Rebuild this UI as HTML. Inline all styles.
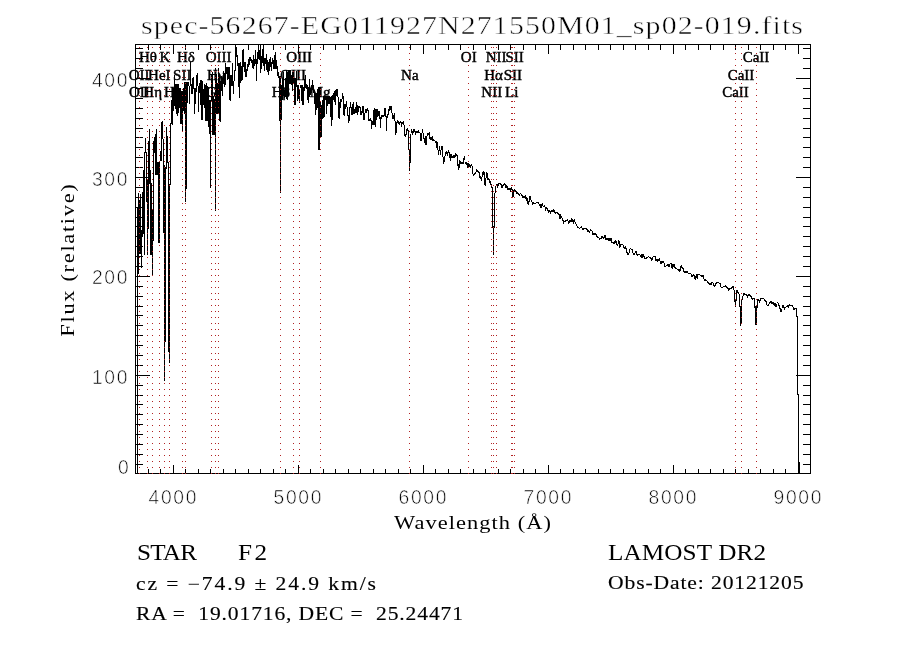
<!DOCTYPE html><html><head><meta charset="utf-8"><title>spec-56267-EG011927N271550M01_sp02-019.fits</title><style>html,body{margin:0;padding:0;background:#fff;}svg{display:block;}.serif{font-family:"Liberation Serif","DejaVu Serif",serif;}.mono{font-family:"Liberation Mono","DejaVu Sans Mono",monospace;}.sans{font-family:"Liberation Sans","DejaVu Sans",sans-serif;}</style></head><body>
<svg width="900" height="650" viewBox="0 0 900 650">
<rect width="900" height="650" fill="#fff"/>
<text class="serif" transform="translate(141 33.7) scale(1.15 1)" font-size="26" textLength="575.65" lengthAdjust="spacing" stroke="#fff" stroke-width="0.5">spec-56267-EG011927N271550M01_sp02-019.fits</text>
<path shape-rendering="crispEdges" fill="none" stroke="#000" stroke-width="1" d="M135.5 44.5H810.5V473.5H135.5ZM148.5 474V469M148.5 44V50M160.5 474V469M160.5 44V50M173.5 474V465M173.5 44V54M185.5 474V469M185.5 44V50M198.5 474V469M198.5 44V50M210.5 474V469M210.5 44V50M223.5 474V469M223.5 44V50M235.5 474V469M235.5 44V50M248.5 474V469M248.5 44V50M260.5 474V469M260.5 44V50M273.5 474V469M273.5 44V50M285.5 474V469M285.5 44V50M298.5 474V465M298.5 44V54M310.5 474V469M310.5 44V50M323.5 474V469M323.5 44V50M335.5 474V469M335.5 44V50M348.5 474V469M348.5 44V50M360.5 474V469M360.5 44V50M373.5 474V469M373.5 44V50M385.5 474V469M385.5 44V50M398.5 474V469M398.5 44V50M410.5 474V469M410.5 44V50M423.5 474V465M423.5 44V54M435.5 474V469M435.5 44V50M448.5 474V469M448.5 44V50M460.5 474V469M460.5 44V50M473.5 474V469M473.5 44V50M485.5 474V469M485.5 44V50M498.5 474V469M498.5 44V50M510.5 474V469M510.5 44V50M523.5 474V469M523.5 44V50M535.5 474V469M535.5 44V50M548.5 474V465M548.5 44V54M560.5 474V469M560.5 44V50M573.5 474V469M573.5 44V50M585.5 474V469M585.5 44V50M598.5 474V469M598.5 44V50M610.5 474V469M610.5 44V50M623.5 474V469M623.5 44V50M635.5 474V469M635.5 44V50M648.5 474V469M648.5 44V50M660.5 474V469M660.5 44V50M673.5 474V465M673.5 44V54M685.5 474V469M685.5 44V50M698.5 474V469M698.5 44V50M710.5 474V469M710.5 44V50M723.5 474V469M723.5 44V50M735.5 474V469M735.5 44V50M748.5 474V469M748.5 44V50M760.5 474V469M760.5 44V50M773.5 474V469M773.5 44V50M785.5 474V469M785.5 44V50M798.5 474V465M798.5 44V54M135 464.5H143M811 464.5H803M135 454.5H143M811 454.5H803M135 444.5H143M811 444.5H803M135 434.5H143M811 434.5H803M135 424.5H143M811 424.5H803M135 414.5H143M811 414.5H803M135 404.5H143M811 404.5H803M135 395.5H143M811 395.5H803M135 385.5H143M811 385.5H803M135 375.5H150M811 375.5H796M135 365.5H143M811 365.5H803M135 355.5H143M811 355.5H803M135 345.5H143M811 345.5H803M135 335.5H143M811 335.5H803M135 325.5H143M811 325.5H803M135 315.5H143M811 315.5H803M135 306.5H143M811 306.5H803M135 296.5H143M811 296.5H803M135 286.5H143M811 286.5H803M135 276.5H150M811 276.5H796M135 266.5H143M811 266.5H803M135 256.5H143M811 256.5H803M135 246.5H143M811 246.5H803M135 236.5H143M811 236.5H803M135 226.5H143M811 226.5H803M135 217.5H143M811 217.5H803M135 207.5H143M811 207.5H803M135 197.5H143M811 197.5H803M135 187.5H143M811 187.5H803M135 177.5H150M811 177.5H796M135 167.5H143M811 167.5H803M135 157.5H143M811 157.5H803M135 147.5H143M811 147.5H803M135 137.5H143M811 137.5H803M135 128.5H143M811 128.5H803M135 118.5H143M811 118.5H803M135 108.5H143M811 108.5H803M135 98.5H143M811 98.5H803M135 88.5H143M811 88.5H803M135 78.5H150M811 78.5H796M135 68.5H143M811 68.5H803M135 58.5H143M811 58.5H803M135 48.5H143M811 48.5H803"/>
<path shape-rendering="crispEdges" fill="none" stroke="#000" stroke-width="1" d="M137.5 207V474M138.5 193V274M139.5 200V254M140.5 194V254M141.5 230V268M142.5 192V237M143.5 170V234M144.5 152V255M145.5 138V153M146.5 152V202M147.5 180V255M148.5 141V229M149.5 129V184M150.5 170V255M151.5 183V255M152.5 210V276M153.5 141V241M154.5 137V153M155.5 134V175M156.5 129V175M157.5 162V175M158.5 162V243M159.5 161V243M160.5 151V161M161.5 122V161M162.5 121V139M163.5 139V233M164.5 165V381M165.5 167V342M166.5 127V169M167.5 136V163M168.5 162V352M169.5 184V363M170.5 123V185M171.5 100V124M172.5 95V125M173.5 88V111M174.5 75V106M175.5 84V109M176.5 84V114M177.5 84V116M178.5 84V113M179.5 88V108M180.5 88V124M181.5 91V124M182.5 91V132M183.5 88V111M184.5 82V114M185.5 82V202M186.5 82V189M187.5 82V103M188.5 82V86M189.5 86V104M190.5 62V86M191.5 84V94M192.5 78V94M193.5 77V89M194.5 88V114M195.5 88V104M196.5 75V92M197.5 73V86M198.5 86V112M199.5 83V93M200.5 80V105M201.5 80V120M202.5 81V120M203.5 89V105M204.5 84V108M205.5 85V121M206.5 83V121M207.5 86V121M208.5 87V127M209.5 100V134M210.5 100V188M211.5 75V101M212.5 72V135M213.5 96V135M214.5 99V135M215.5 68V211M216.5 74V114M217.5 83V114M218.5 68V114M219.5 74V121M220.5 81V122M221.5 76V91M222.5 78V96M223.5 71V84M224.5 73V87M225.5 63V85M226.5 67V74M227.5 67V80M228.5 67V79M229.5 67V100M230.5 75V101M231.5 75V86M232.5 63V86M233.5 81V94M234.5 70V81M235.5 46V71M236.5 47V57M237.5 55V66M238.5 63V87M239.5 63V98M240.5 62V83M241.5 66V81M242.5 50V80M243.5 49V67M244.5 62V72M245.5 62V77M246.5 69V77M247.5 64V71M248.5 59V67M249.5 57V65M250.5 57V61M251.5 59V63M252.5 60V68M253.5 55V69M254.5 59V66M255.5 50V64M256.5 59V81M257.5 52V64M258.5 45V59M259.5 50V60M260.5 45V73M261.5 56V69M262.5 49V63M263.5 45V66M264.5 58V71M265.5 58V64M266.5 54V70M267.5 60V72M268.5 62V75M269.5 59V71M270.5 57V67M271.5 62V71M272.5 58V64M273.5 60V69M274.5 55V69M275.5 52V69M276.5 60V69M277.5 66V76M278.5 72V78M279.5 76V121M280.5 76V193M281.5 85V120M282.5 78V100M283.5 72V96M284.5 90V98M285.5 78V97M286.5 70V99M287.5 72V100M288.5 70V96M289.5 70V84M290.5 70V84M291.5 75V85M292.5 72V91M293.5 71V83M294.5 78V105M295.5 78V105M296.5 71V87M297.5 85V101M298.5 85V99M299.5 89V103M300.5 85V88M301.5 85V101M302.5 85V105M303.5 87V105M304.5 79V91M305.5 75V88M306.5 84V89M307.5 85V100M308.5 87V103M309.5 79V97M310.5 88V95M311.5 85V93M312.5 80V90M313.5 85V93M314.5 90V104M315.5 93V115M316.5 93V110M317.5 89V108M318.5 87V150M319.5 87V150M320.5 101V137M321.5 105V137M322.5 100V119M323.5 96V118M324.5 96V117M325.5 96V100M326.5 96V114M327.5 96V106M328.5 96V104M329.5 96V104M330.5 97V117M331.5 96V126M332.5 95V120M333.5 93V100M334.5 91V102M335.5 90V105M336.5 89V96M337.5 89V97M338.5 97V118M339.5 102V119M340.5 99V108M341.5 99V102M342.5 93V99M343.5 96V115M344.5 104V116M345.5 104V109M346.5 101V107M347.5 107V116M348.5 115V123M349.5 107V121M350.5 102V108M351.5 107V115M352.5 104V115M353.5 102V114M354.5 109V114M355.5 107V113M356.5 102V113M357.5 105V115M358.5 106V112M359.5 106V108M360.5 107V115M361.5 111V115M362.5 106V113M363.5 106V120M364.5 113V120M365.5 109V113M366.5 109V113M367.5 108V111M368.5 110V121M369.5 119V121M370.5 118V121M371.5 120V129M372.5 121V125M373.5 110V125M374.5 108V125M375.5 109V127M376.5 109V120M377.5 109V117M378.5 111V116M379.5 111V119M380.5 117V128M381.5 115V119M382.5 115V117M383.5 115V117M384.5 108V116M385.5 108V117M386.5 116V131M387.5 114V118M388.5 109V115M389.5 106V111M390.5 106V110M391.5 106V113M392.5 113V119M393.5 115V119M394.5 113V121M395.5 121V135M396.5 122V133M397.5 120V123M398.5 121V124M399.5 122V125M400.5 121V123M401.5 122V127M402.5 122V124M403.5 121V125M404.5 125V136M405.5 134V137M406.5 129V135M407.5 128V131M408.5 130V150M409.5 149V171M410.5 134V163M411.5 129V133M412.5 131V135M413.5 129V133M414.5 129V132M415.5 131V135M416.5 131V133M417.5 131V133M418.5 130V133M419.5 132V133M420.5 133V141M421.5 133V141M422.5 129V133M423.5 133V139M424.5 138V143M425.5 136V145M426.5 136V145M427.5 133V136M428.5 133V135M429.5 132V139M430.5 137V140M431.5 137V140M432.5 136V141M433.5 139V141M434.5 140V141M435.5 141V143M436.5 141V148M437.5 142V150M438.5 150V155M439.5 146V151M440.5 150V155M441.5 146V150M442.5 146V157M443.5 157V164M444.5 156V162M445.5 152V156M446.5 151V154M447.5 152V156M448.5 150V153M449.5 152V158M450.5 154V161M451.5 154V158M452.5 156V158M453.5 155V158M454.5 155V158M455.5 153V157M456.5 154V156M457.5 155V166M458.5 164V170M459.5 160V168M460.5 161V164M461.5 162V164M462.5 162V164M463.5 158V164M464.5 156V160M465.5 162V164M466.5 162V165M467.5 163V168M468.5 163V168M469.5 164V167M470.5 165V168M471.5 164V166M472.5 166V174M473.5 174V176M474.5 173V175M475.5 172V174M476.5 169V172M477.5 170V172M478.5 171V173M479.5 172V178M480.5 176V179M481.5 177V181M482.5 172V177M483.5 171V175M484.5 172V185M485.5 178V186M486.5 172V178M487.5 173V180M488.5 178V180M489.5 179V183M490.5 181V185M491.5 184V188M492.5 187V228M493.5 226V255M494.5 193V228M495.5 186V193M496.5 184V186M497.5 184V188M498.5 183V186M499.5 183V184M500.5 183V185M501.5 184V188M502.5 185V188M503.5 184V186M504.5 183V185M505.5 184V188M506.5 185V188M507.5 186V190M508.5 188V190M509.5 188V190M510.5 188V192M511.5 187V190M512.5 189V197M513.5 190V197M514.5 189V192M515.5 190V192M516.5 191V194M517.5 192V194M518.5 193V195M519.5 194V196M520.5 193V194M521.5 194V196M522.5 195V198M523.5 196V198M524.5 196V198M525.5 195V199M526.5 197V201M527.5 198V204M528.5 201V205M529.5 196V202M530.5 196V200M531.5 200V202M532.5 202V205M533.5 202V204M534.5 203V204M535.5 203V204M536.5 202V203M537.5 202V203M538.5 202V204M539.5 204V206M540.5 204V208M541.5 204V208M542.5 203V206M543.5 206V207M544.5 205V207M545.5 207V211M546.5 207V209M547.5 208V211M548.5 210V213M549.5 210V212M550.5 211V214M551.5 210V212M552.5 210V212M553.5 209V212M554.5 210V213M555.5 212V214M556.5 212V213M557.5 212V214M558.5 213V215M559.5 214V219M560.5 214V219M561.5 216V218M562.5 218V221M563.5 220V224M564.5 221V222M565.5 220V222M566.5 220V221M567.5 219V221M568.5 221V224M569.5 220V223M570.5 220V222M571.5 218V222M572.5 219V222M573.5 220V224M574.5 219V222M575.5 222V224M576.5 224V226M577.5 226V228M578.5 227V228M579.5 228V229M580.5 227V228M581.5 226V228M582.5 228V230M583.5 228V230M584.5 228V229M585.5 228V229M586.5 228V230M587.5 229V232M588.5 230V232M589.5 231V233M590.5 229V231M591.5 230V231M592.5 231V235M593.5 233V235M594.5 233V235M595.5 233V235M596.5 234V237M597.5 236V238M598.5 237V238M599.5 238V240M600.5 238V239M601.5 236V239M602.5 236V238M603.5 237V239M604.5 235V238M605.5 235V240M606.5 238V240M607.5 238V240M608.5 238V241M609.5 238V241M610.5 238V241M611.5 238V243M612.5 242V243M613.5 242V244M614.5 241V244M615.5 240V243M616.5 241V245M617.5 244V246M618.5 240V244M619.5 241V248M620.5 244V247M621.5 244V245M622.5 244V245M623.5 245V248M624.5 247V249M625.5 246V249M626.5 248V253M627.5 252V255M628.5 253V255M629.5 249V253M630.5 248V249M631.5 249V250M632.5 249V253M633.5 253V255M634.5 253V255M635.5 251V253M636.5 251V255M637.5 254V256M638.5 254V255M639.5 254V255M640.5 255V257M641.5 254V258M642.5 254V258M643.5 254V257M644.5 256V259M645.5 258V259M646.5 257V259M647.5 257V258M648.5 256V257M649.5 257V258M650.5 257V259M651.5 258V261M652.5 257V260M653.5 256V257M654.5 256V257M655.5 256V261M656.5 259V261M657.5 259V262M658.5 259V261M659.5 258V261M660.5 261V264M661.5 261V264M662.5 261V263M663.5 261V263M664.5 263V267M665.5 266V267M666.5 265V266M667.5 264V266M668.5 264V267M669.5 264V267M670.5 263V264M671.5 263V268M672.5 264V269M673.5 264V267M674.5 264V268M675.5 267V269M676.5 268V269M677.5 269V270M678.5 269V271M679.5 269V272M680.5 266V271M681.5 265V268M682.5 267V269M683.5 268V272M684.5 271V273M685.5 271V273M686.5 271V273M687.5 271V273M688.5 273V274M689.5 273V274M690.5 273V274M691.5 274V277M692.5 275V277M693.5 274V276M694.5 275V279M695.5 276V280M696.5 274V278M697.5 274V279M698.5 274V275M699.5 274V275M700.5 275V276M701.5 275V277M702.5 275V277M703.5 275V279M704.5 279V281M705.5 279V281M706.5 280V281M707.5 281V283M708.5 282V284M709.5 283V285M710.5 283V285M711.5 282V285M712.5 282V283M713.5 283V286M714.5 285V287M715.5 283V286M716.5 282V284M717.5 282V283M718.5 282V283M719.5 283V284M720.5 283V287M721.5 287V288M722.5 287V288M723.5 286V287M724.5 286V287M725.5 285V287M726.5 286V288M727.5 287V289M728.5 288V291M729.5 288V290M730.5 288V289M731.5 287V289M732.5 286V288M733.5 286V290M734.5 290V302M735.5 300V307M736.5 290V301M737.5 290V293M738.5 292V294M739.5 294V307M740.5 306V326M741.5 300V324M742.5 296V300M743.5 293V296M744.5 293V295M745.5 294V295M746.5 294V296M747.5 295V298M748.5 294V296M749.5 294V296M750.5 295V297M751.5 296V299M752.5 298V300M753.5 298V299M754.5 298V308M755.5 306V325M756.5 306V325M757.5 299V308M758.5 299V301M759.5 300V303M760.5 298V301M761.5 298V299M762.5 298V299M763.5 298V299M764.5 299V301M765.5 300V302M766.5 301V305M767.5 305V306M768.5 304V306M769.5 302V304M770.5 301V303M771.5 301V304M772.5 302V304M773.5 302V305M774.5 303V306M775.5 303V307M776.5 304V307M777.5 302V303M778.5 303V306M779.5 305V309M780.5 308V312M781.5 309V312M782.5 305V308M783.5 305V308M784.5 307V310M785.5 307V308M786.5 306V307M787.5 305V307M788.5 305V308M789.5 304V306M790.5 305V306M791.5 305V306M792.5 305V307M793.5 307V310M794.5 308V310M795.5 308V309M796.5 308V317M797.5 316V395M798.5 394V474M799.5 462V474"/>
<text class="sans" x="148.5" y="503.5" font-size="19.3" textLength="48" lengthAdjust="spacing" stroke="#fff" stroke-width="0.6">4000</text>
<text class="sans" x="273.5" y="503.5" font-size="19.3" textLength="48" lengthAdjust="spacing" stroke="#fff" stroke-width="0.6">5000</text>
<text class="sans" x="398.5" y="503.5" font-size="19.3" textLength="48" lengthAdjust="spacing" stroke="#fff" stroke-width="0.6">6000</text>
<text class="sans" x="523.5" y="503.5" font-size="19.3" textLength="48" lengthAdjust="spacing" stroke="#fff" stroke-width="0.6">7000</text>
<text class="sans" x="648.5" y="503.5" font-size="19.3" textLength="48" lengthAdjust="spacing" stroke="#fff" stroke-width="0.6">8000</text>
<text class="sans" x="773.5" y="503.5" font-size="19.3" textLength="48" lengthAdjust="spacing" stroke="#fff" stroke-width="0.6">9000</text>
<text class="sans" x="118" y="473.9" font-size="19.3" textLength="9.400000000000006" lengthAdjust="spacing" stroke="#fff" stroke-width="0.6">0</text>
<text class="sans" x="92" y="383.7" font-size="19.3" textLength="35.400000000000006" lengthAdjust="spacing" stroke="#fff" stroke-width="0.6">100</text>
<text class="sans" x="92" y="284.2" font-size="19.3" textLength="35.400000000000006" lengthAdjust="spacing" stroke="#fff" stroke-width="0.6">200</text>
<text class="sans" x="92" y="185.8" font-size="19.3" textLength="35.400000000000006" lengthAdjust="spacing" stroke="#fff" stroke-width="0.6">300</text>
<text class="sans" x="92" y="86.9" font-size="19.3" textLength="35.400000000000006" lengthAdjust="spacing" stroke="#fff" stroke-width="0.6">400</text>
<text class="serif" transform="translate(394 529) scale(1.15 1)" font-size="19.5" textLength="136.52" lengthAdjust="spacing">Wavelength (&#197;)</text>
<text class="serif" transform="translate(73.7 336.7) rotate(-90) scale(1.15 1)" font-size="19.5" textLength="132.61" lengthAdjust="spacing">Flux (relative)</text>
<text class="serif" x="139.12" y="79.6" font-size="15" stroke="#000" stroke-width="0.45" text-anchor="middle">OII</text>
<text class="serif" x="139.38" y="96.6" font-size="15" stroke="#000" stroke-width="0.45" text-anchor="middle">OII</text>
<text class="serif" x="147.99" y="62.3" font-size="15" stroke="#000" stroke-width="0.45" text-anchor="middle">H&#952;</text>
<text class="serif" x="152.67" y="96.6" font-size="15" stroke="#000" stroke-width="0.45" text-anchor="middle">H&#951;</text>
<text class="serif" x="159.33" y="79.6" font-size="15" stroke="#000" stroke-width="0.45" text-anchor="middle">HeI</text>
<text class="serif" x="164.96" y="62.3" font-size="15" stroke="#000" stroke-width="0.45" text-anchor="middle">K</text>
<text class="serif" x="169.31" y="96.6" font-size="15" stroke="#000" stroke-width="0.45" text-anchor="middle">H</text>
<text class="serif" x="182.25" y="79.6" font-size="15" stroke="#000" stroke-width="0.45" text-anchor="middle">SII</text>
<text class="serif" x="185.97" y="62.3" font-size="15" stroke="#000" stroke-width="0.45" text-anchor="middle">H&#948;</text>
<text class="serif" x="211.30" y="96.6" font-size="15" stroke="#000" stroke-width="0.45" text-anchor="middle">G</text>
<text class="serif" x="215.81" y="79.6" font-size="15" stroke="#000" stroke-width="0.45" text-anchor="middle">H&#947;</text>
<text class="serif" x="218.65" y="62.3" font-size="15" stroke="#000" stroke-width="0.45" text-anchor="middle">OIII</text>
<text class="serif" x="280.92" y="96.6" font-size="15" stroke="#000" stroke-width="0.45" text-anchor="middle">H&#946;</text>
<text class="serif" x="293.11" y="79.6" font-size="15" stroke="#000" stroke-width="0.45" text-anchor="middle">OIII</text>
<text class="serif" x="299.11" y="62.3" font-size="15" stroke="#000" stroke-width="0.45" text-anchor="middle">OIII</text>
<text class="serif" x="320.17" y="96.6" font-size="15" stroke="#000" stroke-width="0.45" text-anchor="middle">Mg</text>
<text class="serif" x="409.86" y="79.6" font-size="15" stroke="#000" stroke-width="0.45" text-anchor="middle">Na</text>
<text class="serif" x="468.72" y="62.3" font-size="15" stroke="#000" stroke-width="0.45" text-anchor="middle">OI</text>
<text class="serif" x="491.76" y="96.6" font-size="15" stroke="#000" stroke-width="0.45" text-anchor="middle">NII</text>
<text class="serif" x="493.60" y="79.6" font-size="15" stroke="#000" stroke-width="0.45" text-anchor="middle">H&#945;</text>
<text class="serif" x="496.18" y="62.3" font-size="15" stroke="#000" stroke-width="0.45" text-anchor="middle">NII</text>
<text class="serif" x="511.73" y="96.6" font-size="15" stroke="#000" stroke-width="0.45" text-anchor="middle">Li</text>
<text class="serif" x="512.80" y="79.6" font-size="15" stroke="#000" stroke-width="0.45" text-anchor="middle">SII</text>
<text class="serif" x="514.60" y="62.3" font-size="15" stroke="#000" stroke-width="0.45" text-anchor="middle">SII</text>
<text class="serif" x="735.50" y="96.6" font-size="15" stroke="#000" stroke-width="0.45" text-anchor="middle">CaII</text>
<text class="serif" x="741.01" y="79.6" font-size="15" stroke="#000" stroke-width="0.45" text-anchor="middle">CaII</text>
<text class="serif" x="756.02" y="62.3" font-size="15" stroke="#000" stroke-width="0.45" text-anchor="middle">CaII</text>
<defs><pattern id="dots" x="0" y="47" width="900" height="6" patternUnits="userSpaceOnUse"><rect x="0" y="0" width="900" height="1" fill="#b22222"/></pattern></defs>
<path shape-rendering="crispEdges" fill="url(#dots)" d="M139 47h1v427h-1zM147 47h1v427h-1zM152 47h1v427h-1zM159 47h1v427h-1zM164 47h1v427h-1zM169 47h1v427h-1zM182 47h1v427h-1zM185 47h1v427h-1zM211 47h1v427h-1zM215 47h1v427h-1zM218 47h1v427h-1zM280 47h1v427h-1zM293 47h1v427h-1zM299 47h1v427h-1zM320 47h1v427h-1zM409 47h1v427h-1zM468 47h1v427h-1zM491 47h1v427h-1zM493 47h1v427h-1zM496 47h1v427h-1zM511 47h1v427h-1zM512 47h1v427h-1zM514 47h1v427h-1zM735 47h1v427h-1zM741 47h1v427h-1zM756 47h1v427h-1z"/>
<text class="serif" transform="translate(137 560) scale(1.05 1)" font-size="24" textLength="57.14" lengthAdjust="spacing">STAR</text>
<text class="serif" transform="translate(238 560) scale(1.05 1)" font-size="24" textLength="27.62" lengthAdjust="spacing">F2</text>
<text class="serif" transform="translate(136 589.7) scale(1.2 1)" font-size="18" textLength="200.00" lengthAdjust="spacing" stroke="#000" stroke-width="0.12" xml:space="preserve">cz = &#8722;74.9 &#177; 24.9 km/s</text>
<text class="serif" transform="translate(136 620) scale(1.2 1)" font-size="18" textLength="272.50" lengthAdjust="spacing" stroke="#000" stroke-width="0.12" xml:space="preserve">RA =  19.01716, DEC =  25.24471</text>
<text class="serif" transform="translate(608 560) scale(1.05 1)" font-size="24" textLength="150.48" lengthAdjust="spacing">LAMOST DR2</text>
<text class="serif" transform="translate(608 589.2) scale(1.2 1)" font-size="18" textLength="162.92" lengthAdjust="spacing" stroke="#000" stroke-width="0.12">Obs-Date: 20121205</text>
</svg></body></html>
